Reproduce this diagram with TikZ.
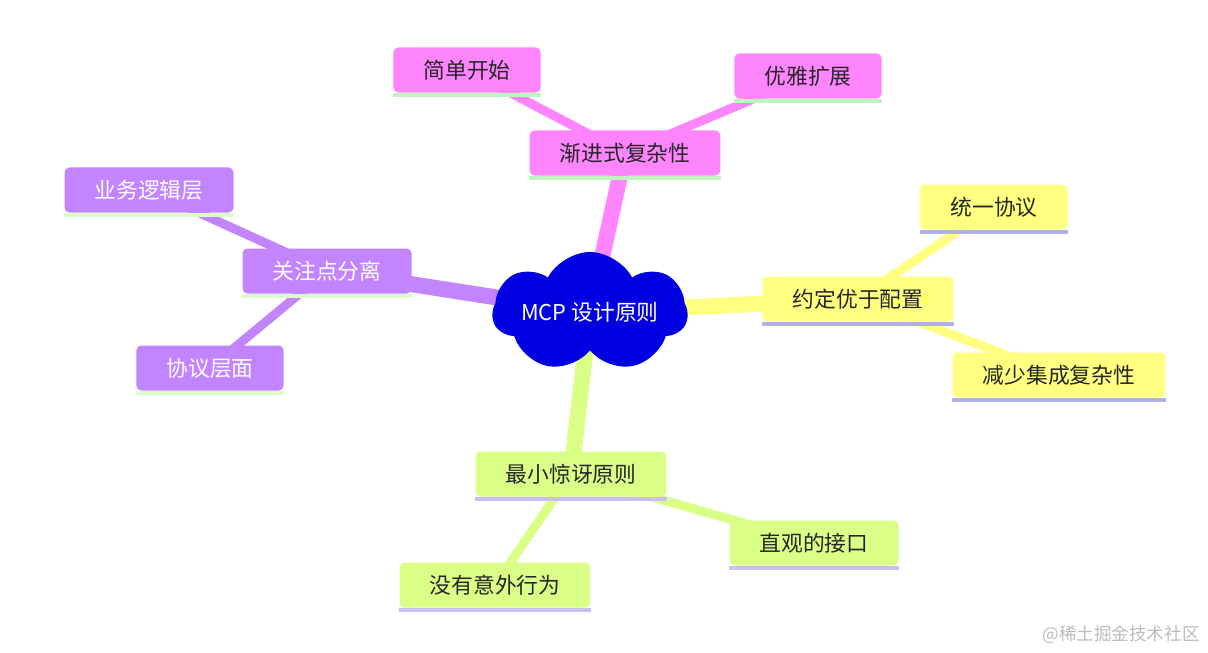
\documentclass[tikz,border=0pt]{standalone}
\usepackage{fontspec}
\setmainfont{Noto Sans CJK SC}
\usetikzlibrary{shapes.symbols, backgrounds}

\definecolor{rootblue}{HTML}{0000E0}
\definecolor{mmpink}{HTML}{FF85FF}
\definecolor{mmpinkline}{HTML}{BDF5BD}
\definecolor{mmyellow}{HTML}{FFFF80}
\definecolor{mmyellowline}{HTML}{AFAFEA}
\definecolor{mmgreen}{HTML}{D9FF87}
\definecolor{mmgreenline}{HTML}{C9BFF2}
\definecolor{mmpurple}{HTML}{C285FF}
\definecolor{mmpurpleline}{HTML}{DDFBC8}
\definecolor{marktext}{HTML}{BBBBBB}

\tikzset{
  mmbox/.style 2 args={rectangle, rounded corners=0.12cm, fill=#1,
    minimum height=1.125cm, inner xsep=0.75cm, inner ysep=0pt,
    font=\fontsize{15.5pt}{18pt}\selectfont, text=black!85,
    append after command={([yshift=-0.05cm]\tikzlastnode.south west)
      edge[draw=#2, line width=0.1cm, rounded corners=0pt]
      ([yshift=-0.05cm]\tikzlastnode.south east)}},
  branch/.style={line width=0.4cm, draw=#1},
  twig/.style={line width=0.225cm, draw=#1},
}

\begin{document}
\begin{tikzpicture}[x=0.025cm, y=-0.025cm]
\useasboundingbox (0,0) rectangle (1208,652);

% ---------------- root ----------------
\node[cloud, cloud puffs=7, cloud puff arc=125, cloud ignores aspect,
      fill=rootblue, minimum width=4.875cm, minimum height=3cm,
      inner sep=0pt, text=white, font=\fontsize{15.5pt}{18pt}\selectfont]
      (root) at (590,312) {MCP 设计原则};

% ---------------- progressive (pink) ----------------
\node[mmbox={mmpink}{mmpinkline}] (prog) at (625,153) {渐进式复杂性};
\node[mmbox={mmpink}{mmpinkline}] (simple) at (467,70) {简单开始};
\node[mmbox={mmpink}{mmpinkline}] (elegant) at (808,76) {优雅扩展};

% ---------------- convention (yellow) ----------------
\node[mmbox={mmyellow}{mmyellowline}] (conv) at (858,299) {约定优于配置};
\node[mmbox={mmyellow}{mmyellowline}] (unify) at (994,207) {统一协议};
\node[mmbox={mmyellow}{mmyellowline}] (reduce) at (1059,375) {减少集成复杂性};

% ---------------- least surprise (green) ----------------
\node[mmbox={mmgreen}{mmgreenline}] (least) at (571,474) {最小惊讶原则};
\node[mmbox={mmgreen}{mmgreenline}] (intuit) at (814,543) {直观的接口};
\node[mmbox={mmgreen}{mmgreenline}] (nosurp) at (495,585) {没有意外行为};

% ---------------- separation (purple) ----------------
\node[mmbox={mmpurple}{mmpurpleline}, text=white] (sep) at (327,271) {关注点分离};
\node[mmbox={mmpurple}{mmpurpleline}, text=white] (biz) at (149,190) {业务逻辑层};
\node[mmbox={mmpurple}{mmpurpleline}, text=white] (proto) at (210,368) {协议层面};

% watermark
\node[text=marktext, font=\fontsize{12.5pt}{15pt}\selectfont] (mark) at (1121,635) {@稀土掘金技术社区};

% ---------------- connectors ----------------
\begin{scope}[on background layer]
  \draw[branch=mmpink] (root.center) -- (prog.center);
  \draw[twig=mmpink] (prog.center) -- (simple.center);
  \draw[twig=mmpink] (prog.center) -- (elegant.center);
  \draw[branch=mmyellow] (root.center) -- (conv.center);
  \draw[twig=mmyellow] (conv.center) -- (unify.center);
  \draw[twig=mmyellow] (conv.center) -- (reduce.center);
  \draw[branch=mmgreen] (root.center) -- (least.center);
  \draw[twig=mmgreen] (least.center) -- (intuit.center);
  \draw[twig=mmgreen] (least.center) -- (nosurp.center);
  \draw[branch=mmpurple] (root.center) -- (sep.center);
  \draw[twig=mmpurple] (sep.center) -- (biz.center);
  \draw[twig=mmpurple] (sep.center) -- (proto.center);
\end{scope}
\end{tikzpicture}
\end{document}
